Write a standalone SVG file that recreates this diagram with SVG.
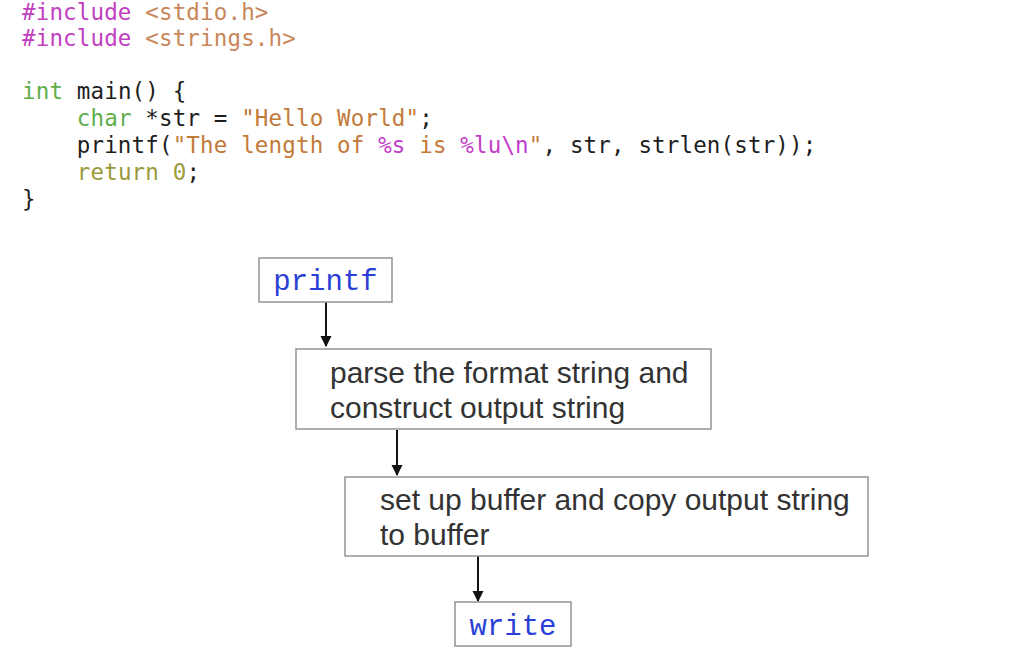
<svg xmlns="http://www.w3.org/2000/svg" width="1019" height="652" viewBox="0 0 1019 652">
<defs>
<style>
.code{font-family:"DejaVu Sans Mono","Liberation Mono",monospace;font-size:22.5px;letter-spacing:0.15px;fill:#1e1e1e;}
.kw{fill:#c040c0;}
.inc{fill:#c8875a;}
.ty{fill:#5fae4a;}
.ret{fill:#9a9a3c;}
.str{fill:#c27a3a;}
.fmt{fill:#c23dc8;}
.box{fill:#fff;stroke:#9a9a9a;stroke-width:1.6;}
.fn{font-family:"Liberation Mono","Courier New",monospace;font-size:29px;fill:#2a3fd6;text-anchor:middle;}
.lbl{font-family:"Liberation Sans",Arial,sans-serif;font-size:30px;fill:#333;}
.conn{stroke:#111;stroke-width:2;fill:none;}
</style>
<marker id="ah" markerWidth="11" markerHeight="13" refX="9" refY="5" orient="auto" markerUnits="userSpaceOnUse" viewBox="0 0 10 10">
<path d="M0,0 L10,5 L0,10 z" fill="#111"/>
</marker>
</defs>
<rect width="1019" height="652" fill="#fff"/>
<g id="code">
<text class="code" x="22" y="20"><tspan class="kw">#include</tspan> <tspan class="inc">&lt;stdio.h&gt;</tspan></text>
<text class="code" x="22" y="46"><tspan class="kw">#include</tspan> <tspan class="inc">&lt;strings.h&gt;</tspan></text>
<text class="code" x="22" y="99"><tspan class="ty">int</tspan> main() {</text>
<text class="code" x="22" y="126" xml:space="preserve">    <tspan class="ty">char</tspan> *str = <tspan class="str">"Hello World"</tspan>;</text>
<text class="code" x="22" y="153" xml:space="preserve">    printf(<tspan class="str">"The length of </tspan><tspan class="fmt">%s</tspan><tspan class="str"> is </tspan><tspan class="fmt">%lu\n</tspan><tspan class="str">"</tspan>, str, strlen(str));</text>
<text class="code" x="22" y="180" xml:space="preserve">    <tspan class="ret">return</tspan> <tspan class="ret">0</tspan>;</text>
<text class="code" x="22" y="207">}</text>
</g>
<g id="connectors">
<line class="conn" x1="326" y1="302" x2="326" y2="346" marker-end="url(#ah)"/>
<line class="conn" x1="397" y1="430" x2="397" y2="475" marker-end="url(#ah)"/>
<line class="conn" x1="478" y1="556" x2="478" y2="601" marker-end="url(#ah)"/>
</g>
<g id="node-printf">
<rect class="box" x="259" y="258" width="133" height="44"/>
<text class="fn" x="325.5" y="290">printf</text>
</g>
<g id="node-parse">
<rect class="box" x="296" y="349" width="415" height="80"/>
<text class="lbl" x="330" y="383">parse the format string and</text>
<text class="lbl" x="330" y="418">construct output string</text>
</g>
<g id="node-buffer">
<rect class="box" x="345" y="477" width="523" height="79"/>
<text class="lbl" x="380" y="510">set up buffer and copy output string</text>
<text class="lbl" x="380" y="545">to buffer</text>
</g>
<g id="node-write">
<rect class="box" x="455" y="602" width="116" height="44"/>
<text class="fn" x="513" y="635">write</text>
</g>
</svg>
